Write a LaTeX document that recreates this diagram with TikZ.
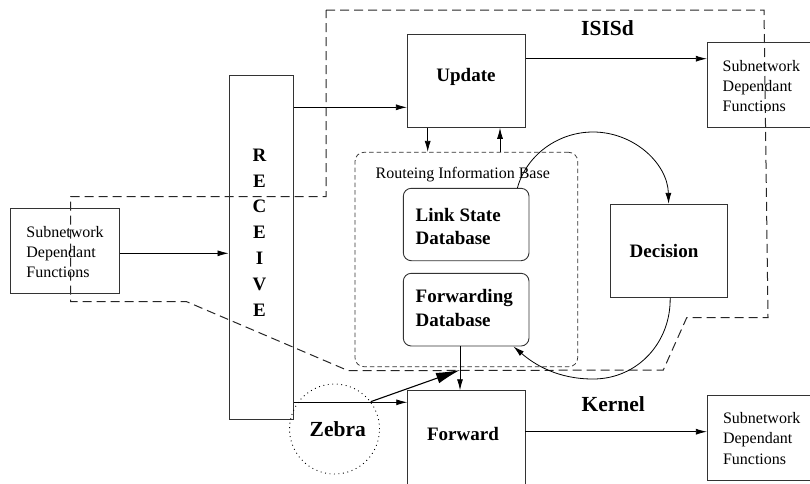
\documentclass[tikz,border=0pt]{standalone}
\usepackage{fontspec}
\setmainfont{Liberation Serif}
\usetikzlibrary{arrows.meta}
\begin{document}
\begin{tikzpicture}[x=1pt,y=-1pt,
  box/.style={draw=black!80, line width=0.9pt, inner sep=0pt, rectangle},
  dbbox/.style={box, rounded corners=8pt},
  ribbox/.style={draw=black!80, line width=0.75pt, dash pattern=on 4.5pt off 3pt, rounded corners=9pt, inner sep=0pt, rectangle},
  lbl/.style={font=\fontsize{19}{23.5}\selectfont\bfseries, inner sep=0pt},
  biglbl/.style={font=\fontsize{21.5}{25}\selectfont\bfseries, inner sep=0pt},
  sdftext/.style={font=\fontsize{16}{20.3}\selectfont, align=left, anchor=west, inner sep=0pt},
  flow/.style={draw=black, line width=0.8pt, -{Latex[length=11pt,width=6pt]}},
  border/.style={draw=black!85, line width=1pt, dash pattern=on 9pt off 5pt},
]
\useasboundingbox (0,0) rectangle (810,483);

% ISISd process boundary
\draw[border] (326,10) -- (764,10) -- (768,317.7) -- (686.7,317.7) -- (663.3,370)
  -- (348.3,370.7) -- (186.7,301.7) -- (70.7,301.7) -- (70.7,196.7) -- (326,196.7) -- cycle;
\node[biglbl] (isisd) at (607.5,28.3) {ISISd};
\node[biglbl] (kernel) at (613.3,404) {Kernel};

% Functional blocks
\node[box, minimum width=117.7pt, minimum height=93.3pt] (update) at (466.2,80.7) {};
\node[lbl] (update-t) at (466,77.3) {Update};

\node[box, minimum width=106pt, minimum height=84.6pt] (sdftop) at (760.3,85) {};
\node[sdftext] (sdftop-t) at (722.5,86) {Subnetwork\\Dependant\\Functions};

\node[box, minimum width=109.3pt, minimum height=85pt] (sdfleft) at (64.65,250.8) {};
\node[sdftext] (sdfleft-t) at (26.2,252.2) {Subnetwork\\Dependant\\Functions};

\node[box, minimum width=106pt, minimum height=85pt] (sdfbot) at (760.3,437.5) {};
\node[sdftext] (sdfbot-t) at (722.8,438.5) {Subnetwork\\Dependant\\Functions};

\node[box, minimum width=64.3pt, minimum height=344pt] (receive) at (261.15,247) {};
\node[inner sep=0pt, align=center, font=\fontsize{19}{25.8}\selectfont\bfseries] (receive-t) at (259.5,232.5) {R\\E\\C\\E\\I\\V\\E};

% Routeing information base
\node[ribbox, minimum width=222.7pt, minimum height=214.4pt] (rib) at (466.35,259.5) {};
\node[font=\fontsize{16}{20}\selectfont, inner sep=0pt] (rib-t) at (462.8,174.3) {Routeing Information Base};

\node[dbbox, minimum width=125.7pt, minimum height=72.4pt] (lsdb) at (466.15,224.5) {};
\node[lbl, align=left, anchor=west] (lsdb-t) at (415.5,226.6) {Link State\\Database};

\node[dbbox, minimum width=125.7pt, minimum height=72.7pt] (fwddb) at (466.15,309.65) {};
\node[lbl, align=left, anchor=west] (fwddb-t) at (415.5,308) {Forwarding\\Database};

\node[box, minimum width=117.3pt, minimum height=93pt] (decision) at (668.65,250.8) {};
\node[lbl] (decision-t) at (664,250.7) {Decision};

\node[box, minimum width=117.3pt, minimum height=104.3pt] (forward) at (466.35,442.85) {};
\node[lbl] (forward-t) at (463,434) {Forward};

\node[circle, draw=black, line width=0.9pt, dash pattern=on 0.9pt off 3.6pt, minimum size=90pt, inner sep=0pt] (zebra) at (334.5,429) {};
\node[biglbl] (zebra-t) at (337.8,429.3) {Zebra};

\coordinate (join) at (460,370);

% Data flows
\draw[flow] ([yshift=-2.5pt]sdfleft.east) -- ([yshift=-2.5pt]sdfleft.east -| receive.west);
\draw[flow] (receive.east |- 0,107.3) -- (update.west |- 0,107.3);
\draw[flow] (update.east |- 0,58.7) -- (sdftop.west |- 0,58.7);
\draw[flow] (update.south -| 427.7,0) -- (rib.north -| 427.7,0);
\draw[flow] (rib.north -| 500,0) -- (update.south -| 500,0);
\draw[flow] (fwddb.south -| 460,0) -- (forward.north -| 460,0);
\draw[flow] (receive.east |- 0,402.3) -- (forward.west |- 0,402.3);
\draw[flow] (forward.east |- 0,431.7) -- (sdfbot.west |- 0,431.7);
\draw[line width=1.1pt, -{Latex[length=24pt,width=11pt]}] (zebra.37) -- (join);

\draw[flow] ([xshift=-12pt]lsdb.north east) .. controls (526.3,155.2) and (557.9,132) .. (593,132)
  .. controls (633.7,132) and (667.6,163.3) .. (decision.north);
\draw[flow] ([xshift=1.5pt]decision.south) .. controls (671,342) and (638,379) .. (593,379)
  .. controls (558,379) and (535,365) .. ([xshift=-16pt]fwddb.south east);
\end{tikzpicture}
\end{document}
